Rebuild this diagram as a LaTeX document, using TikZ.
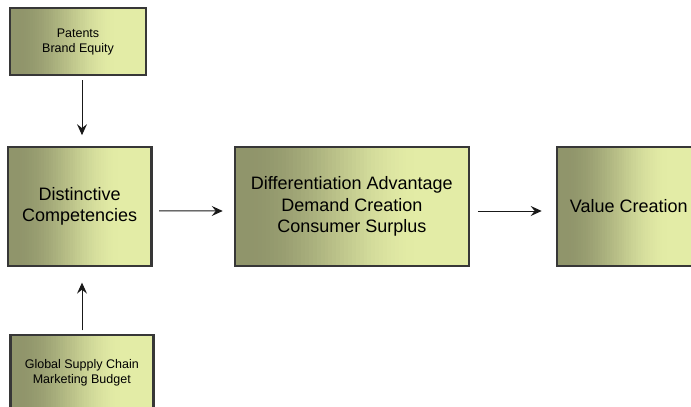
\documentclass[tikz,border=0pt]{standalone}
\usepackage{fontspec}
\setmainfont{Liberation Sans}
\usetikzlibrary{positioning,arrows.meta,calc}

\definecolor{oliveshade}{RGB}{144,149,107}
\definecolor{limeshade}{RGB}{227,236,166}
\definecolor{boxline}{RGB}{55,55,55}

\begin{document}
\begin{tikzpicture}[x=1pt, y=-1pt, >={Stealth[length=11pt, width=10pt, inset=4pt]},
  % left-to-right fade built from thin strips (smoothstep between the two colours)
  fadefill/.style={path picture={
    \path (path picture bounding box.south west) coordinate (fsw)
          (path picture bounding box.south east) coordinate (fse)
          (path picture bounding box.north west) coordinate (fnw)
          (path picture bounding box.north east) coordinate (fne);
    \foreach \i in {0,...,59}{
      \pgfmathsetmacro\fl{\i/60}
      \pgfmathsetmacro\fr{(\i+1)/60}
      \pgfmathsetmacro\fs{max(0,min(1,(\i/59-0.05)/0.75))}
      \pgfmathsetmacro\fp{100*\fs*\fs*(3-2*\fs)}
      \fill[limeshade!\fp!oliveshade]
        ($(fsw)!\fl!(fse)$) rectangle ([xshift=0.4pt]$(fnw)!\fr!(fne)$);
    }
  }},
  block/.style={draw=boxline, line width=2.5pt, fadefill, align=center, inner sep=0pt},
  bigblock/.style={block, minimum width=143.5pt, minimum height=119pt, font=\fontsize{18}{21.5}\selectfont},
  smallblock/.style={block, font=\fontsize{12.5}{15}\selectfont},
  link/.style={->, line width=1pt, black!90}]
  \useasboundingbox (0,0) rectangle (691,407);

  % main chain
  \node[bigblock] (dist) at (79.7,206.4) {Distinctive\\Competencies};
  \node[bigblock, minimum width=234pt] (diff) at (351.8,206.5)
       {Differentiation Advantage\\Demand Creation\\Consumer Surplus};
  \node[bigblock] (value) at (628.7,206.5) {Value Creation};

  % sources feeding the competencies
  \node[smallblock, minimum width=136pt, minimum height=67pt] (assets) at (78,41.5)
       {Patents\\Brand Equity};
  \node[smallblock, minimum width=143pt, minimum height=75pt] (resources) at (81.8,372.5)
       {Global Supply Chain\\Marketing Budget};

  \draw[link, shorten <=4pt, shorten >=10.5pt] ([xshift=4pt]assets.south) -- ([xshift=2.3pt]dist.north);
  \draw[link, shorten <=3.5pt, shorten >=15.5pt] ([xshift=0.2pt]resources.north) -- ([xshift=2.3pt]dist.south);
  \draw[link, shorten <=6.5pt, shorten >=10.8pt] ([yshift=-4.5pt]dist.east) -- ([yshift=-4.5pt]diff.west);
  \draw[link, shorten <=7.7pt, shorten >=14pt] ([yshift=-4.5pt]diff.east) -- ([yshift=-4.5pt]value.west);
\end{tikzpicture}
\end{document}
